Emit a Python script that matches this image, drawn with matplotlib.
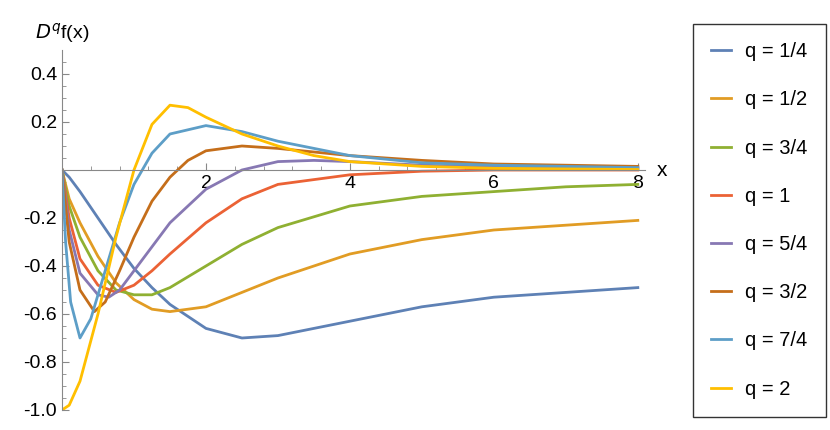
import matplotlib
matplotlib.use("Agg")
import matplotlib.pyplot as plt

# values
labels = ["q = 1/4", "q = 1/2", "q = 3/4", "q = 1", "q = 5/4", "q = 3/2", "q = 7/4", "q = 2"]
colors = ["#5E81B5", "#E19C24", "#8FB032", "#EB6235", "#8778B3", "#C56E1A", "#5D9EC7", "#FFBF00"]

x_q14 = [0, 0.1, 0.25, 0.5, 0.75, 1, 1.25, 1.5, 2, 2.5, 3, 4, 5, 6, 7, 8]
y_q14 = [0, -0.03, -0.09, -0.20, -0.31, -0.41, -0.49, -0.56, -0.66, -0.70, -0.69, -0.63, -0.57, -0.53, -0.51, -0.49]
x_q12 = [0, 0.1, 0.25, 0.5, 0.75, 1, 1.25, 1.5, 2, 2.5, 3, 4, 5, 6, 7, 8]
y_q12 = [0, -0.12, -0.22, -0.36, -0.47, -0.54, -0.58, -0.59, -0.57, -0.51, -0.45, -0.35, -0.29, -0.25, -0.23, -0.21]
x_q34 = [0, 0.1, 0.25, 0.5, 0.75, 1, 1.25, 1.5, 2, 2.5, 3, 4, 5, 6, 7, 8]
y_q34 = [0, -0.15, -0.28, -0.42, -0.50, -0.52, -0.52, -0.49, -0.40, -0.31, -0.24, -0.15, -0.11, -0.09, -0.07, -0.06]
x_q1 = [0, 0.1, 0.25, 0.5, 0.75, 1, 1.25, 1.5, 2, 2.5, 3, 4, 5, 6, 8]
y_q1 = [0, -0.2, -0.37, -0.48, -0.51, -0.48, -0.42, -0.35, -0.22, -0.12, -0.06, -0.02, -0.005, 0, 0]
x_q54 = [0, 0.1, 0.25, 0.5, 0.65, 0.8, 1, 1.25, 1.5, 2, 2.5, 3, 3.5, 4, 5, 6, 8]
y_q54 = [0, -0.25, -0.43, -0.52, -0.53, -0.50, -0.42, -0.32, -0.22, -0.08, 0.0, 0.035, 0.04, 0.035, 0.02, 0.012, 0.007]
x_q32 = [0, 0.1, 0.25, 0.45, 0.6, 0.8, 1, 1.25, 1.5, 1.75, 2, 2.5, 3, 4, 5, 6, 8]
y_q32 = [0, -0.3, -0.5, -0.59, -0.55, -0.42, -0.28, -0.13, -0.03, 0.04, 0.08, 0.10, 0.09, 0.06, 0.04, 0.025, 0.015]
x_q74 = [0, 0.05, 0.12, 0.25, 0.4, 0.6, 0.8, 1, 1.25, 1.5, 2, 2.5, 3, 4, 5, 6, 8]
y_q74 = [0, -0.3, -0.55, -0.70, -0.62, -0.42, -0.22, -0.06, 0.07, 0.15, 0.185, 0.16, 0.12, 0.06, 0.03, 0.02, 0.01]
x_q2 = [0, 0.1, 0.25, 0.5, 0.75, 1, 1.25, 1.5, 1.75, 2, 2.5, 3, 3.5, 4, 5, 6, 8]
y_q2 = [-1.0, -0.98, -0.88, -0.60, -0.28, 0.0, 0.19, 0.27, 0.26, 0.22, 0.15, 0.10, 0.06, 0.035, 0.015, 0.007, 0.002]

series = [(x_q14, y_q14), (x_q12, y_q12), (x_q34, y_q34), (x_q1, y_q1),
          (x_q54, y_q54), (x_q32, y_q32), (x_q74, y_q74), (x_q2, y_q2)]

plt.rcParams["font.family"] = ["Liberation Sans", "DejaVu Sans"]
fig = plt.figure(figsize=(8.3, 4.3), dpi=100)
ax = fig.add_axes([62 / 830, 20 / 430, 583 / 830, 360 / 430])

handles = []
for (xs, ys), lab, col in zip(series, labels, colors):
    h, = ax.plot(xs, ys, color=col, lw=2, label=lab)
    handles.append(h)

ax.set_xlim(0, 8.1)
ax.set_ylim(-1.0, 0.5)
ax.spines["right"].set_visible(False)
ax.spines["top"].set_visible(False)
ax.spines["bottom"].set_position(("data", 0))
for s in ("left", "bottom"):
    ax.spines[s].set_color("#888888")
ax.set_xticks([2, 4, 6, 8])
ax.set_yticks([-1.0, -0.8, -0.6, -0.4, -0.2, 0.2, 0.4])
ax.set_yticklabels(["-1.0", "-0.8", "-0.6", "-0.4", "-0.2", "0.2", "0.4"])
ax.set_xticks([i * 0.4 for i in range(1, 21) if i % 5], minor=True)
ax.set_yticks([i * 0.05 for i in range(-20, 10) if i % 4], minor=True)
ax.tick_params(labelsize=14, color="#888888", direction="in", length=5)
ax.tick_params(which="minor", color="#888888", direction="in", length=3)

ax.text(0, 0.52, r"$D^q$f(x)", fontsize=14, ha="center", va="bottom")
fig.text(657 / 830, 1 - 170 / 430, "x", fontsize=15, va="center")

leg = fig.legend(handles=handles, loc="upper left", bbox_to_anchor=(683 / 830, 1 - 14 / 430),
                 fontsize=14.5, frameon=True, fancybox=False, edgecolor="black",
                 handlelength=1.0, labelspacing=1.45, borderpad=0.9, handletextpad=0.7)
leg.get_frame().set_linewidth(1.0)

fig.savefig("out.png", dpi=100)
